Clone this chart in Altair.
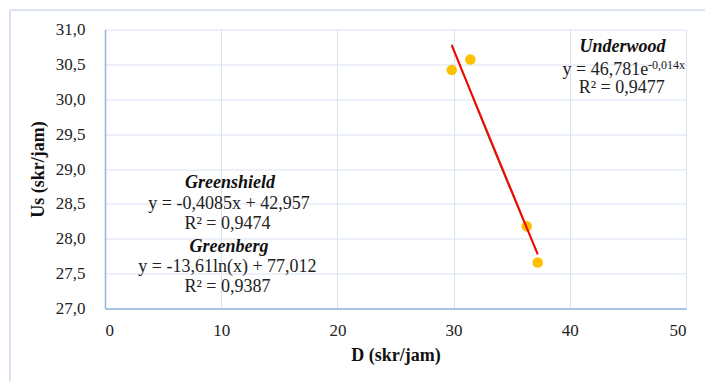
import altair as alt
import pandas as pd

density = [29.84, 31.44, 36.29, 37.24]
speed = [30.42, 30.57, 28.18, 27.66]

# Annotation texts and their positions in data units
title_texts = ["Underwood", "Greenshield", "Greenberg"]
title_x = [44.53, 10.76, 10.67]
title_y = [30.75, 28.795, 27.886]

eq_texts = ["R² = 0,9477", "y = -0,4085x + 42,957", "R² = 0,9474",
            "y = -13,61ln(x) + 77,012", "R² = 0,9387"]
eq_x = [44.47, 10.67, 10.54, 10.54, 10.54]
eq_y = [30.16, 28.50, 28.21, 27.60, 27.31]

exp_main = ["y = 46,781e"]
exp_main_x = [46.74]
exp_main_y = [30.42]
exp_sup = ["-0,014x"]
exp_sup_x = [46.74]
exp_sup_y = [30.49]

x_ticks = [0, 10, 20, 30, 40, 50]
y_ticks = [27, 27.5, 28, 28.5, 29, 29.5, 30, 30.5, 31]

FONT = "Liberation Serif"
GRID = "#d9e2f1"
DOMAIN = "#8eb4e3"

df = pd.DataFrame({"D": density, "Us": speed})

xscale = alt.Scale(domain=[0, 50], nice=False, zero=False)
yscale = alt.Scale(domain=[27, 31], nice=False, zero=False)

xaxis = alt.Axis(title="D (skr/jam)", values=x_ticks, labelPadding=14,
                 labelOverlap=False, titlePadding=8)
yaxis = alt.Axis(title="Us (skr/jam)", values=y_ticks,
                 labelExpr="replace(format(datum.value, '.1f'), '.', ',')",
                 labelOverlap=False, labelPadding=20, titlePadding=8)


def X(field):
    return alt.X(field, type="quantitative", scale=xscale, axis=xaxis)


def Y(field):
    return alt.Y(field, type="quantitative", scale=yscale, axis=yaxis)


base = alt.Chart(df)

pts = base.mark_circle(size=110, color="#ffc000", opacity=1).encode(
    x=X("D"), y=Y("Us"))

exp_line = base.transform_regression("D", "Us", method="exp").mark_line(
    color="#3a8a2a", strokeWidth=1.4).encode(x=X("D"), y=Y("Us"))

lin_line = base.transform_regression("D", "Us", method="linear").mark_line(
    color="#ff0000", strokeWidth=2).encode(x=X("D"), y=Y("Us"))

titles_df = pd.DataFrame({"t": title_texts, "x": title_x, "y": title_y})
eq_df = pd.DataFrame({"t": eq_texts, "x": eq_x, "y": eq_y})
em_df = pd.DataFrame({"t": exp_main, "x": exp_main_x, "y": exp_main_y})
es_df = pd.DataFrame({"t": exp_sup, "x": exp_sup_x, "y": exp_sup_y})

titles = alt.Chart(titles_df).mark_text(font=FONT, fontSize=18, fontWeight="bold",
                                        fontStyle="italic", color="#111",
                                        baseline="middle", align="center").encode(
    x=X("x"), y=Y("y"), text="t:N")

eqs = alt.Chart(eq_df).mark_text(font=FONT, fontSize=18, color="#222",
                                 baseline="middle", align="center").encode(
    x=X("x"), y=Y("y"), text="t:N")

em = alt.Chart(em_df).mark_text(font=FONT, fontSize=18, color="#222",
                                baseline="middle", align="right").encode(
    x=X("x"), y=Y("y"), text="t:N")

es = alt.Chart(es_df).mark_text(font=FONT, fontSize=12, color="#222",
                                baseline="middle", align="left").encode(
    x=X("x"), y=Y("y"), text="t:N")

# outer chart frame (top and left edges visible)
frame_top = alt.Chart(df).mark_rule(color="#d9e2ee", strokeWidth=1.2).encode(
    x=alt.value(-95), x2=alt.value(700), y=alt.value(-19.5))
frame_left = alt.Chart(df).mark_rule(color="#d9e2ee", strokeWidth=1.2).encode(
    x=alt.value(-95), y=alt.value(-19.5), y2=alt.value(400))

chart = alt.layer(pts, exp_line, lin_line, titles, eqs, em, es, frame_top, frame_left).properties(
    width=581, height=279,
    autosize=alt.AutoSizeParams(type="none"),
    padding={"left": 105, "top": 29.5, "right": 19, "bottom": 72},
    background="white",
).configure(font=FONT).configure_view(stroke=None).configure_axis(
    grid=True, gridColor=GRID, ticks=False,
    domainColor=DOMAIN, domainWidth=1.5,
    labelFont=FONT, labelFontSize=17, labelColor="#222",
    titleFont=FONT, titleFontSize=18, titleFontWeight="bold", titleColor="#111",
)

chart.save("out.html", embed_options={"renderer": "svg", "actions": False})
